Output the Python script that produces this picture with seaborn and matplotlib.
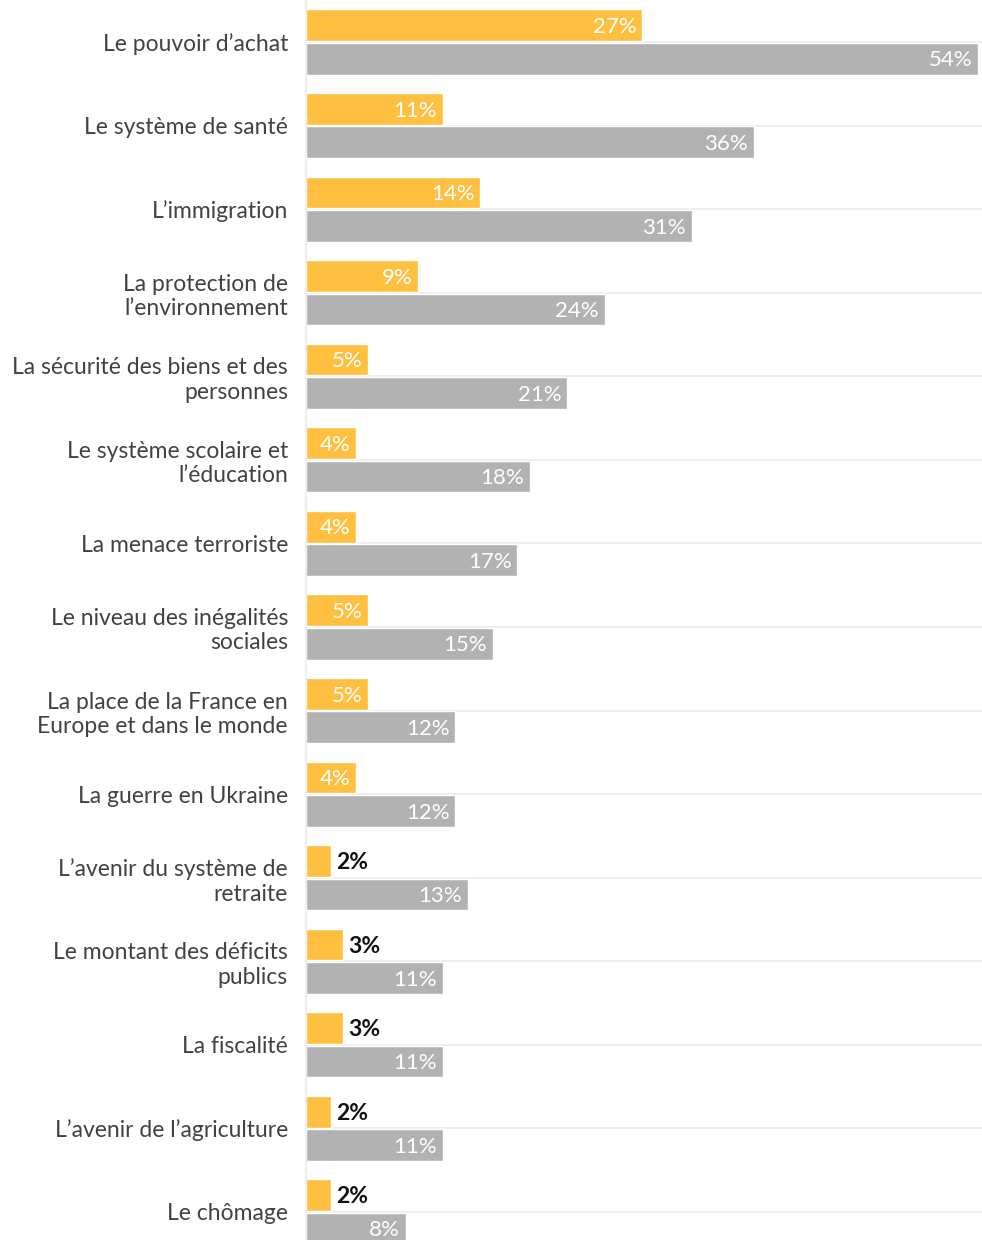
import matplotlib
matplotlib.use("Agg")
import matplotlib.pyplot as plt
import seaborn as sns
import pandas as pd

# Données
categories = [
    "Le pouvoir d’achat",
    "Le système de santé",
    "L’immigration",
    "La protection de\nl’environnement",
    "La sécurité des biens et des\npersonnes",
    "Le système scolaire et\nl’éducation",
    "La menace terroriste",
    "Le niveau des inégalités\nsociales",
    "La place de la France en\nEurope et dans le monde",
    "La guerre en Ukraine",
    "L’avenir du système de\nretraite",
    "Le montant des déficits\npublics",
    "La fiscalité",
    "L’avenir de l’agriculture",
    "Le chômage",
]
en_premier = [27, 11, 14, 9, 5, 4, 4, 5, 5, 4, 2, 3, 3, 2, 2]
au_total = [54, 36, 31, 24, 21, 18, 17, 15, 12, 12, 13, 11, 11, 11, 8]
series = ["En premier", "Au total"]
couleurs = ["#FFBF40", "#B2B2B2"]

df = pd.DataFrame({
    "enjeu": categories * 2,
    "valeur": en_premier + au_total,
    "serie": [series[0]] * len(categories) + [series[1]] * len(categories),
})

sns.set_style("white")
plt.rcParams["font.family"] = ["Lato", "DejaVu Sans"]

fig = plt.figure(figsize=(9.82, 12.4), dpi=100)
ax = fig.add_axes([306 / 982, 0, 676 / 982, 1])

sns.barplot(data=df, y="enjeu", x="valeur", hue="serie", palette=couleurs,
            orient="h", width=0.8, gap=0.05, saturation=1, legend=False, ax=ax)

ax.set_xlim(0, 676 / 12.44)
ax.set_ylim((1240 - 42) / 83.57, -42 / 83.57)
ax.set_xlabel("")
ax.set_ylabel("")
ax.set_xticks([])

# étiquettes de valeurs
for i, (v1, v2) in enumerate(zip(en_premier, au_total)):
    for v, off in [(v1, -0.2), (v2, 0.2)]:
        if v >= 4:
            ax.text(v - 0.45, i + off + 0.02, f"{v}%", ha="right", va="center",
                    color="white", fontsize=16, fontweight="normal")
        else:
            ax.text(v + 0.4, i + off + 0.02, f"{v}%", ha="left", va="center",
                    color="#111111", fontsize=16.5, fontweight="bold")

ax.tick_params(axis="y", length=7.2, color="#E6E6E6", pad=5.8, labelsize=16.5,
               labelcolor="#424242")
ax.grid(axis="y", color="#EBEBEB", linewidth=1.2)
ax.set_axisbelow(True)
for s in ["top", "right", "bottom"]:
    ax.spines[s].set_visible(False)
ax.spines["left"].set_color("#EEEEEE")
ax.spines["left"].set_linewidth(1.5)

plt.savefig("out.png", dpi=100)
